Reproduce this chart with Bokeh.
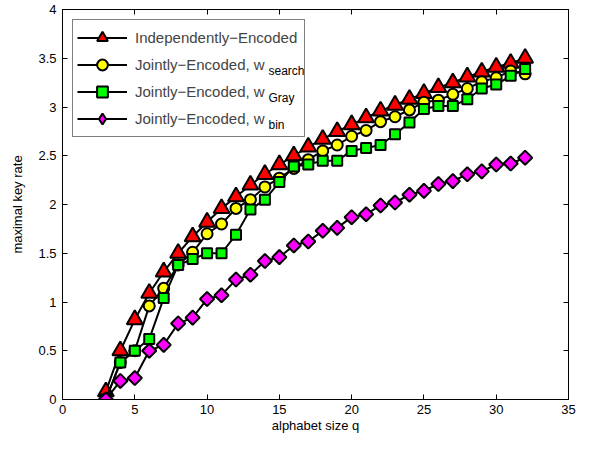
import math
from bokeh.plotting import figure
from bokeh.models import (FixedTicker, LinearAxis, Legend, LegendItem, Label,
                          CustomJSTickFormatter, Range1d)
from bokeh.embed import file_html
from bokeh.resources import INLINE

q = list(range(3, 33))
independent = [0.08, 0.50, 0.82, 1.09, 1.31, 1.50, 1.67, 1.82, 1.96, 2.08,
               2.20, 2.31, 2.41, 2.50, 2.59, 2.67, 2.75, 2.82, 2.89, 2.96,
               3.02, 3.08, 3.14, 3.20, 3.25, 3.31, 3.36, 3.41, 3.45, 3.50]
w_search = [0.00, 0.38, 0.50, 0.96, 1.14, 1.38, 1.51, 1.70, 1.80, 1.96,
            2.05, 2.18, 2.27, 2.37, 2.46, 2.55, 2.61, 2.70, 2.76, 2.85,
            2.90, 2.97, 3.05, 3.07, 3.13, 3.19, 3.26, 3.30, 3.37, 3.34]
w_gray = [0.00, 0.38, 0.50, 0.62, 1.04, 1.38, 1.44, 1.50, 1.50, 1.69,
          1.95, 2.05, 2.23, 2.39, 2.41, 2.45, 2.45, 2.55, 2.58, 2.61,
          2.72, 2.84, 2.98, 3.01, 3.01, 3.08, 3.19, 3.23, 3.32, 3.39]
w_bin = [0.00, 0.19, 0.22, 0.50, 0.56, 0.78, 0.84, 1.03, 1.07, 1.23,
         1.28, 1.42, 1.46, 1.58, 1.62, 1.73, 1.76, 1.87, 1.90, 1.99,
         2.02, 2.10, 2.14, 2.21, 2.24, 2.31, 2.34, 2.41, 2.42, 2.48]

x_ticks = [0, 5, 10, 15, 20, 25, 30, 35]
y_ticks = [0, 0.5, 1, 1.5, 2, 2.5, 3, 3.5, 4]

FONT = "Liberation Sans"

p = figure(width=577, height=436, x_range=Range1d(0, 35), y_range=Range1d(0, 4),
           output_backend="svg", toolbar_location=None,
           min_border_left=62, min_border_right=9, min_border_top=9,
           min_border_bottom=37)
p.xgrid.visible = False
p.ygrid.visible = False
p.outline_line_color = "black"
p.outline_line_width = 1

for ax in (p.xaxis[0], p.yaxis[0]):
    ax.major_tick_in = 5
    ax.major_tick_out = 0
    ax.minor_tick_line_color = None
    ax.axis_line_color = "black"
    ax.major_tick_line_color = "black"
    ax.major_label_text_font = FONT
    ax.major_label_text_font_size = "13px"
    ax.major_label_text_color = "black"
    ax.axis_label_text_font = FONT
    ax.axis_label_text_font_size = "13px"
    ax.axis_label_text_font_style = "normal"
    ax.axis_label_text_color = "black"
p.xaxis[0].ticker = FixedTicker(ticks=x_ticks)
p.yaxis[0].ticker = FixedTicker(ticks=y_ticks)
p.xaxis[0].axis_label = "alphabet size q"
p.yaxis[0].axis_label = "maximal key rate"
p.xaxis[0].major_label_standoff = 5
p.yaxis[0].major_label_standoff = 6
p.xaxis[0].axis_label_standoff = 1
p.yaxis[0].axis_label_standoff = 10

blank = CustomJSTickFormatter(code="return ''")
top = LinearAxis(ticker=FixedTicker(ticks=x_ticks), formatter=blank,
                 major_tick_in=5, major_tick_out=0, minor_tick_line_color=None,
                 major_label_text_font_size="0px", major_label_standoff=0)
right = LinearAxis(ticker=FixedTicker(ticks=y_ticks), formatter=blank,
                   major_tick_in=5, major_tick_out=0, minor_tick_line_color=None,
                   major_label_text_font_size="0px", major_label_standoff=0)
p.add_layout(top, "above")
p.add_layout(right, "right")

NAN = float("nan")
series = [
    (independent, "triangle", "#ff0000", 16, 0.0, None, "Independently\u2212Encoded"),
    (w_search, "circle", "#ffff00", 11, 0.0, None, "Jointly\u2212Encoded, w"),
    (w_gray, "square", "#00ff00", 10, 0.0, None, "Jointly\u2212Encoded, w"),
    (w_bin, "square", "#ff00ff", 10, math.pi / 4, ("diamond", 18), "Jointly\u2212Encoded, w"),
]
items = []
for vals, marker, color, size, ang, key, label in series:
    lr = p.line(q, vals, line_color="black", line_width=2)
    sr = p.scatter(q, vals, marker=marker, size=size, angle=ang, fill_color=color,
                   line_color="black", line_width=2)
    if key is not None:
        # legend key proxy (not drawn on the plot: NaN position)
        sr = p.scatter([NAN], [NAN], marker=key[0], size=key[1], fill_color=color,
                       line_color="black", line_width=2)
    items.append(LegendItem(label=label, renderers=[lr, sr]))

legend = Legend(items=items, location="top_left", margin=10, padding=4,
                spacing=0, glyph_width=50, glyph_height=27, label_height=27,
                label_standoff=8, label_width=165,
                label_text_font=FONT, label_text_font_size="15px",
                border_line_color="black", border_line_width=1,
                background_fill_alpha=0)
p.add_layout(legend)

subs = [("search", -61.5), ("Gray", -88.5), ("bin", -115.5)]
for txt, dy in subs:
    p.add_layout(Label(x=0, y=4, x_offset=206, y_offset=dy, text=txt,
                       text_font=FONT, text_font_size="12px",
                       text_baseline="alphabetic", text_color="black"))

open("out.html", "w").write(file_html(p, INLINE))
